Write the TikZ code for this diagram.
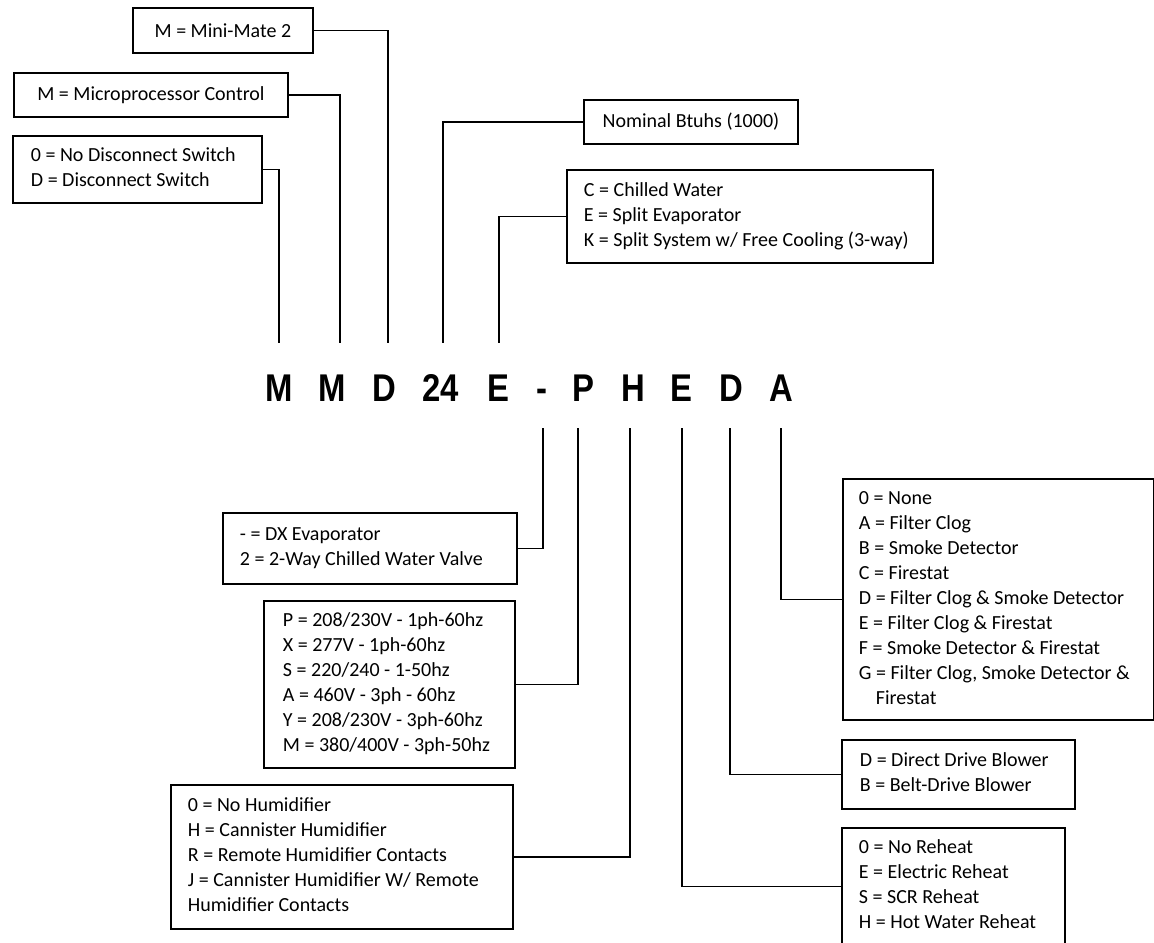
\documentclass[tikz,border=0pt]{standalone}
\usepackage{graphicx}
\usepackage{fontspec}
\setmainfont{Carlito}
\newfontfamily\codefont{Liberation Sans}
\newcommand{\lbox}[2]{\makebox[#1][l]{\begin{tabular}{@{}l@{}}#2\end{tabular}}}
\newcommand{\codechar}[1]{\scalebox{0.85}[1]{#1}}
\begin{document}
\begin{tikzpicture}[x=0.75pt,y=-0.75pt,
  box/.style={draw, line width=1.4pt, anchor=north west, inner ysep=0pt,
    font=\fontsize{15}{18.75}\selectfont},
  conn/.style={line width=1.4pt},
  code/.style={font=\codefont\bfseries\fontsize{29}{30}\selectfont, inner sep=0pt, anchor=base}]
\useasboundingbox (0,0) rectangle (1154,943);
\clip (0,0) rectangle (1154,943);

% top boxes
\node[box, minimum width=135pt, minimum height=33.75pt] (mini) at (132,7) {M = Mini-Mate 2};
\node[box, minimum width=205.5pt, minimum height=33pt] (micro) at (13,72) {M = Microprocessor Control};
\node[box, minimum width=186.75pt, minimum height=50.25pt, inner xsep=13.5pt] (disc) at (12,135)
  {\lbox{159.75pt}{0 = No Disconnect Switch\\ D = Disconnect Switch}};
\node[box, minimum width=160.5pt, minimum height=33pt] (nom) at (583,99) {Nominal Btuhs (1000)};
\node[box, minimum width=274.5pt, minimum height=69.75pt, inner xsep=12.75pt] (chill) at (566,169)
  {\lbox{249pt}{C = Chilled Water\\ E = Split Evaporator\\ K = Split System w/ Free Cooling (3-way)}};

% code letters
\node[code] (cM1) at (279,401) {\codechar{M}};
\node[code] (cM2) at (332,401) {\codechar{M}};
\node[code] (cD) at (384,401) {\codechar{D}};
\node[code] (c24) at (441,401) {\codechar{24}};
\node[code] (cE) at (498,401) {\codechar{E}};
\node[code] (cDash) at (542,401) {\codechar{-}};
\node[code] (cP) at (583,401) {\codechar{P}};
\node[code] (cH) at (633,401) {\codechar{H}};
\node[code] (cE2) at (681,401) {\codechar{E}};
\node[code] (cD2) at (731,401) {\codechar{D}};
\node[code] (cA) at (781,401) {\codechar{A}};

% bottom boxes
\node[box, minimum width=220.5pt, minimum height=53.25pt, inner xsep=12.75pt] (dx) at (222,512)
  {\lbox{195pt}{- = DX Evaporator\\ 2 = 2-Way Chilled Water Valve}};
\node[box, minimum width=188.25pt, minimum height=125.25pt, inner xsep=14.25pt] (volt) at (263,600)
  {\lbox{159.75pt}{P = 208/230V - 1ph-60hz\\ X = 277V - 1ph-60hz\\ S = 220/240 - 1-50hz\\ A = 460V - 3ph - 60hz\\ Y = 208/230V - 3ph-60hz\\ M = 380/400V - 3ph-50hz}};
\node[box, minimum width=256.5pt, minimum height=108pt, inner xsep=12.75pt] (hum) at (170,784)
  {\lbox{231pt}{0 = No Humidifier\\ H = Cannister Humidifier\\ R = Remote Humidifier Contacts\\ J = Cannister Humidifier W/ Remote\\ Humidifier Contacts}};
\node[box, minimum width=233.25pt, minimum height=180.75pt, inner xsep=12pt] (alarm) at (842,478)
  {\lbox{209.25pt}{0 = None\\ A = Filter Clog\\ B = Smoke Detector\\ C = Firestat\\ D = Filter Clog \& Smoke Detector\\ E = Filter Clog \& Firestat\\ F = Smoke Detector \& Firestat\\ G = Filter Clog, Smoke Detector \&\\ \hspace*{12.75pt}Firestat}};
\node[box, minimum width=174.75pt, minimum height=51.75pt, inner xsep=13.5pt] (blower) at (841,739)
  {\lbox{147.75pt}{D = Direct Drive Blower\\ B = Belt-Drive Blower}};
\node[box, minimum width=167.25pt, minimum height=87.75pt, inner xsep=12.75pt] (reheat) at (841,827)
  {\lbox{141.75pt}{0 = No Reheat\\ E = Electric Reheat\\ S = SCR Reheat\\ H = Hot Water Reheat}};

% connector ends
\coordinate (tM1) at (279,343);
\coordinate (tM2) at (340,343);
\coordinate (tD) at (388,343);
\coordinate (t24) at (443,343);
\coordinate (tE) at (499,343);
\coordinate (bDash) at (543,428);
\coordinate (bP) at (578,428);
\coordinate (bH) at (630,428);
\coordinate (bE) at (682,428);
\coordinate (bD) at (730,428);
\coordinate (bA) at (781,428);

\draw[conn] (mini.east) -| (tD);
\draw[conn] (micro.east) -| (tM2);
\draw[conn] (disc.east) -| (tM1);
\draw[conn] (nom.west) -| (t24);
\draw[conn] (chill.west) -| (tE);
\draw[conn] (dx.east) -| (bDash);
\draw[conn] (volt.east) -| (bP);
\draw[conn] (hum.east) -| (bH);
\draw[conn] (alarm.west) -| (bA);
\draw[conn] (blower.west) -| (bD);
\draw[conn] (reheat.west) -| (bE);
\end{tikzpicture}
\end{document}
